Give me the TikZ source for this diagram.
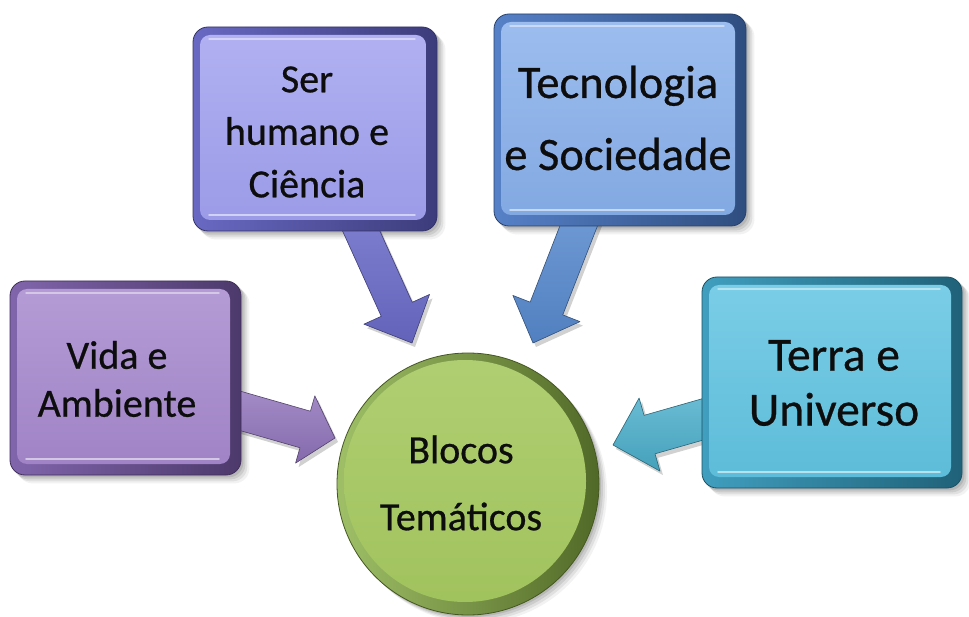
\documentclass[tikz,border=0pt]{standalone}
\usepackage{fontspec}
\setmainfont{Carlito}[FakeBold=0.6]
\usetikzlibrary{calc}

\definecolor{vidaRim}{RGB}{118,88,165}
\definecolor{vidaFace}{RGB}{165,135,205}
\definecolor{vidaArr}{RGB}{150,120,195}
\definecolor{serRim}{RGB}{92,92,190}
\definecolor{serFace}{RGB}{160,160,240}
\definecolor{serArr}{RGB}{112,112,212}
\definecolor{tecRim}{RGB}{72,118,195}
\definecolor{tecFace}{RGB}{135,175,235}
\definecolor{tecArr}{RGB}{92,145,218}
\definecolor{terRim}{RGB}{48,150,185}
\definecolor{terFace}{RGB}{95,195,225}
\definecolor{terArr}{RGB}{78,182,212}
\definecolor{bloRim}{RGB}{135,175,65}
\definecolor{bloFace}{RGB}{165,200,95}

\pgfdeclarelayer{bgL}
\pgfdeclarelayer{shadowL}
\pgfdeclarelayer{arrowL}
\pgfsetlayers{bgL,shadowL,arrowL,main}

\tikzset{
  bevelbox/.style n args={4}{rectangle, rounded corners=15pt,
    minimum width=#1, minimum height=#2, inner sep=0pt,
    draw=#3!55!black, line width=0.8pt,
    left color=#3!92!white, right color=#3!65!black,
    path picture={
      \shade[rounded corners=10pt, top color=#4!82!white, bottom color=#4!96!black]
        ([shift={(7pt,-8pt)}]path picture bounding box.north west) rectangle
        ([shift={(-11pt,11pt)}]path picture bounding box.south east);
      \draw[white, opacity=.45, line width=1.4pt, line cap=round]
        ([shift={(16pt,-12pt)}]path picture bounding box.north west) --
        ([shift={(-22pt,-12pt)}]path picture bounding box.north east);
      \draw[white, opacity=.55, line width=1.6pt, line cap=round]
        ([shift={(16pt,16pt)}]path picture bounding box.south west) --
        ([shift={(-22pt,16pt)}]path picture bounding box.south east);
    }},
  circbox/.style={circle, minimum size=262pt, inner sep=0pt,
    draw=bloRim!50!black, line width=0.8pt,
    left color=bloRim!80!white, right color=bloRim!60!black,
    path picture={
      \shade[top color=bloFace!88!white, bottom color=bloFace!97!black]
        ([shift={(-3pt,3pt)}]path picture bounding box.center) circle (121pt);
    }},
  txt/.style 2 args={font=\fontsize{#1pt}{#2pt}\selectfont, align=center,
    inner sep=0pt, text=black!95},
}

% block arrow: start, tip, prefix, shaft half width, head half width, head length, colour
\newcommand\blockarr[7]{%
  \coordinate (#3hb) at ($(#2)!#6pt!(#1)$);
  \coordinate (#3a) at ($(#1)!#4pt!90:(#2)$);
  \coordinate (#3b) at ($(#3hb)!#4pt!90:(#2)$);
  \coordinate (#3c) at ($(#3hb)!#5pt!90:(#2)$);
  \coordinate (#3d) at ($(#3hb)!#5pt!-90:(#2)$);
  \coordinate (#3e) at ($(#3hb)!#4pt!-90:(#2)$);
  \coordinate (#3f) at ($(#1)!#4pt!-90:(#2)$);
  \begin{pgfonlayer}{shadowL}
    \fill[black, opacity=.18, transform canvas={shift={(3pt,-4pt)}}]
      (#3a) -- (#3b) -- (#3c) -- (#2) -- (#3d) -- (#3e) -- (#3f) -- cycle;
  \end{pgfonlayer}
  \begin{pgfonlayer}{arrowL}
    \shadedraw[top color=#7!75!white, bottom color=#7!88!black,
      draw=#7!55!black, line width=.6pt, line join=round]
      (#3a) -- (#3b) -- (#3c) -- (#2) -- (#3d) -- (#3e) -- (#3f) -- cycle;
  \end{pgfonlayer}
}

\begin{document}
\begin{tikzpicture}[x=1pt,y=-1pt]
\begin{pgfonlayer}{bgL}
  \fill[white] (0,0) rectangle (969,617);
\end{pgfonlayer}
\useasboundingbox (0,0) rectangle (969,617);

% shapes
\node[bevelbox={231pt}{194pt}{vidaRim}{vidaFace}] (vida) at (125.5,378) {};
\node[bevelbox={244pt}{204pt}{serRim}{serFace}] (ser) at (315,129) {};
\node[bevelbox={252pt}{212pt}{tecRim}{tecFace}] (tec) at (620,120) {};
\node[bevelbox={260pt}{211pt}{terRim}{terFace}] (terra) at (832,382.5) {};
\node[circbox] (blocos) at (468,484) {};

% texts
\node[txt={40}{48}] (vidaT) at (117,379) {Vida e\\Ambiente};
\node[txt={40}{52.5}] (serT) at (307,132) {Ser\\humano e\\Ciência};
\node[txt={46.5}{72}] (tecT) at (618,118) {Tecnologia\\e Sociedade};
\node[txt={47.5}{55}] (terraT) at (834,383) {Terra e\\Universo};
\node[txt={40}{67}] (bloT) at (461,483) {Blocos\\Temáticos};

% arrow tips near the circle
\coordinate (tipV) at (335,438);
\coordinate (tipS) at (412,343);
\coordinate (tipT) at (533,343);
\coordinate (tipU) at (613,445);

\blockarr{vida.center}{tipV}{av}{19}{35}{31}{vidaArr}
\blockarr{ser.center}{tipS}{as}{17}{36}{37}{serArr}
\blockarr{tec.center}{tipT}{at}{17.5}{36}{37}{tecArr}
\blockarr{terra.center}{tipU}{au}{20}{38}{38}{terArr}

% soft shadows
\begin{pgfonlayer}{shadowL}
  \foreach \n in {vida,ser,tec,terra}{
    \foreach \o/\op in {2/.10,4/.09,6/.07,8/.05}{
      \fill[black, opacity=\op, rounded corners=15pt]
        ([shift={(\o pt,-\o pt)}]\n.north west) rectangle
        ([shift={(\o pt,-\o pt)}]\n.south east);
    }
  }
  \foreach \o/\op in {2/.10,4/.09,6/.07,8/.05}{
    \fill[black, opacity=\op] ([shift={(\o pt,-\o pt)}]blocos.center) circle (131);
  }
\end{pgfonlayer}
\end{tikzpicture}
\end{document}
